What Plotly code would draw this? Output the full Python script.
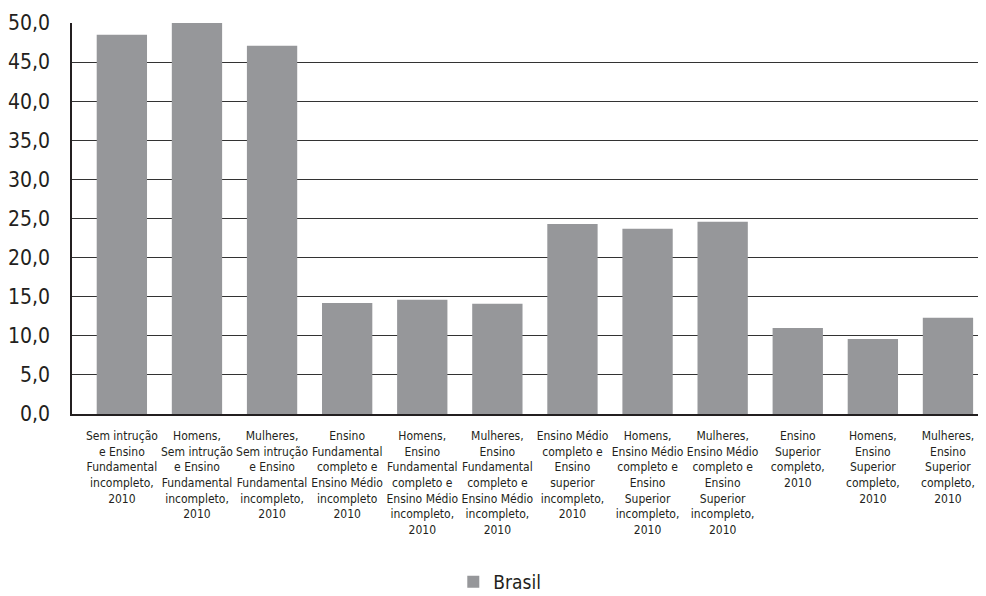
import plotly.graph_objects as go

categories = [
    "Sem intrução<br>e Ensino<br>Fundamental<br>incompleto,<br>2010",
    "Homens,<br>Sem intrução<br>e Ensino<br>Fundamental<br>incompleto,<br>2010",
    "Mulheres,<br>Sem intrução<br>e Ensino<br>Fundamental<br>incompleto,<br>2010",
    "Ensino<br>Fundamental<br>completo e<br>Ensino Médio<br>incompleto<br>2010",
    "Homens,<br>Ensino<br>Fundamental<br>completo e<br>Ensino Médio<br>incompleto,<br>2010",
    "Mulheres,<br>Ensino<br>Fundamental<br>completo e<br>Ensino Médio<br>incompleto,<br>2010",
    "Ensino Médio<br>completo e<br>Ensino<br>superior<br>incompleto,<br>2010",
    "Homens,<br>Ensino Médio<br>completo e<br>Ensino<br>Superior<br>incompleto,<br>2010",
    "Mulheres,<br>Ensino Médio<br>completo e<br>Ensino<br>Superior<br>incompleto,<br>2010",
    "Ensino<br>Superior<br>completo,<br>2010",
    "Homens,<br>Ensino<br>Superior<br>completo,<br>2010",
    "Mulheres,<br>Ensino<br>Superior<br>completo,<br>2010",
]
brasil = [48.5, 50.0, 47.1, 14.2, 14.6, 14.1, 24.3, 23.7, 24.6, 11.0, 9.6, 12.3]
y_ticks = [0, 5, 10, 15, 20, 25, 30, 35, 40, 45, 50]

FONT = "DejaVu Sans Condensed, Liberation Sans Narrow, sans-serif"

fig = go.Figure()
fig.add_trace(go.Bar(
    x=categories, y=brasil, name="Brasil",
    marker=dict(color="#96979a", line=dict(width=0)),
))

# the page body adds an 8px offset, so the figure is sized to fit the visible area
fig.update_layout(
    width=970, height=588,
    margin=dict(l=64, r=0, t=15, b=182, autoexpand=False),
    paper_bgcolor="white", plot_bgcolor="white",
    font=dict(family=FONT, color="#231f20"),
    bargap=0.33,
    separators=", ",
    showlegend=True,
    legend=dict(
        orientation="h", xref="container", yref="container",
        x=0.507, xanchor="center", y=0.024, yanchor="middle",
        font=dict(size=19, family=FONT, color="#231f20"),
    ),
)
fig.update_xaxes(
    range=[-0.664, 11.40],
    tickangle=0,
    automargin=False,
    tickfont=dict(size=12, family=FONT, color="#231f20"),
    showline=True, linecolor="#231f20", linewidth=1.5,
    ticks="", showgrid=False,
    ticklabelstandoff=10,
)
fig.update_yaxes(
    range=[0, 50],
    tickvals=y_ticks,
    tickformat=".1f",
    automargin=False,
    tickfont=dict(size=21, family=FONT, color="#231f20"),
    showgrid=True, gridcolor="#333333", gridwidth=1,
    showline=True, linecolor="#231f20", linewidth=1.5,
    zeroline=False,
    ticks="", ticklabelstandoff=16,
)

fig.write_html("out.html")
